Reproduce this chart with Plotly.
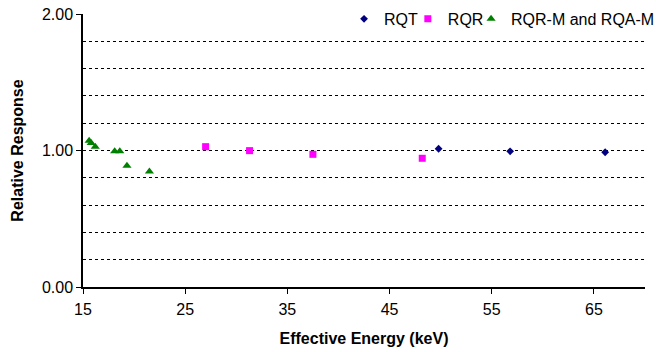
import plotly.graph_objects as go

# Data
rqt_energy = [49.8, 56.8, 66.1]
rqt_response = [1.013, 0.994, 0.987]

rqr_energy = [27.0, 31.3, 37.5, 48.2]
rqr_response = [1.028, 0.999, 0.972, 0.943]

rqrm_energy = [15.6, 15.8, 16.2, 18.1, 18.6, 19.3, 21.5]
rqrm_response = [1.072, 1.055, 1.028, 0.994, 0.994, 0.888, 0.847]

x_ticks = [15, 25, 35, 45, 55, 65]
y_ticks = [0, 1, 2]
y_ticktext = ["0.00", "1.00", "2.00"]
y_grid = [0.2, 0.4, 0.6, 0.8, 1.0, 1.2, 1.4, 1.6, 1.8]

FONT = "Liberation Sans, Arial, sans-serif"

fig = go.Figure()
fig.add_trace(go.Scatter(x=rqt_energy, y=rqt_response, mode="markers", name="RQT",
                         marker=dict(symbol="diamond", size=6, color="#000080", line=dict(width=0)),
                         legend="legend"))
fig.add_trace(go.Scatter(x=rqr_energy, y=rqr_response, mode="markers", name="RQR",
                         marker=dict(symbol="square", size=7, color="#FF00FF", line=dict(width=0)),
                         legend="legend2"))
fig.add_trace(go.Scatter(x=rqrm_energy, y=rqrm_response, mode="markers", name="RQR-M and RQA-M",
                         marker=dict(symbol="triangle-up", size=8, color="#008000", line=dict(width=0)),
                         legend="legend3"))
# invisible trace on overlay axis to carry dotted gridlines
fig.add_trace(go.Scatter(x=[15], y=[0], mode="markers", marker=dict(opacity=0),
                         showlegend=False, hoverinfo="skip", yaxis="y2"))

leg_common = dict(orientation="h", yanchor="middle", xanchor="left", bgcolor="rgba(0,0,0,0)",
                  borderwidth=0, itemwidth=30, font=dict(family=FONT, size=16, color="black"),
                  xref="paper", yref="paper")

fig.update_layout(
    width=656, height=352,
    margin=dict(l=83, r=11, t=14, b=65, autoexpand=False),
    paper_bgcolor="white", plot_bgcolor="white",
    font=dict(family=FONT, size=16, color="black"),
    showlegend=True,
    legend=dict(x=0.4645, y=0.982, **leg_common),
    legend2=dict(x=0.578, y=0.982, **leg_common),
    legend3=dict(x=0.6905, y=0.982, **leg_common),
    xaxis=dict(range=[15, 70], tickvals=x_ticks, ticks="outside", ticklen=5, tickcolor="black",
               showline=True, linecolor="black", linewidth=1.5, showgrid=False, zeroline=False,
               tickfont=dict(size=16), automargin=False, ticklabelstandoff=2,
               title=dict(text="<b>Effective Energy (keV)</b>", font=dict(size=16), standoff=16)),
    yaxis=dict(range=[0, 2], tickvals=y_ticks, ticktext=y_ticktext, ticks="outside", ticklen=5,
               tickcolor="black", showline=True, linecolor="black", linewidth=1.5, showgrid=False,
               zeroline=False, tickfont=dict(size=16), automargin=False,
               title=dict(text="<b>Relative Response</b>", font=dict(size=16), standoff=14)),
    yaxis2=dict(range=[0, 2], overlaying="y", tickvals=y_grid, showticklabels=False, ticks="",
                showgrid=True, gridcolor="black", griddash="dot", gridwidth=1, zeroline=False,
                showline=False, automargin=False),
)
fig.write_html("out.html", config={"displayModeBar": False},
               post_script="document.body.style.margin='0';")
